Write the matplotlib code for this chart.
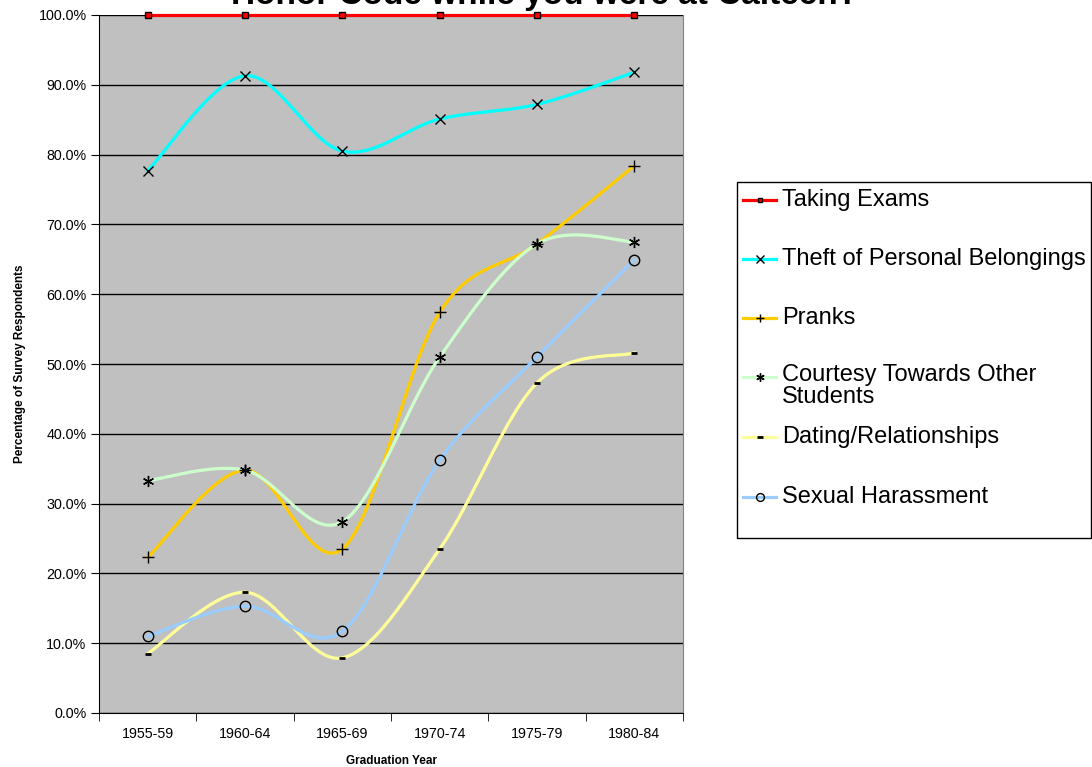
import matplotlib
matplotlib.use("Agg")
import matplotlib.pyplot as plt
from matplotlib.lines import Line2D
from matplotlib.patches import Rectangle
import numpy as np

plt.rcParams['font.family'] = ['Liberation Sans', 'DejaVu Sans']

# %% --- DATOS ---
years = ['1955-59', '1960-64', '1965-69', '1970-74', '1975-79', '1980-84']

taking_exams = [100.0, 100.0, 100.0, 100.0, 100.0, 100.0]
theft = [77.7, 91.3, 80.5, 85.1, 87.2, 91.8]
pranks = [22.3, 34.8, 23.5, 57.4, 67.2, 78.4]
courtesy = [33.3, 34.8, 27.4, 51.0, 67.2, 67.5]
dating = [8.5, 17.3, 7.9, 23.5, 47.3, 51.6]
harassment = [11.0, 15.3, 11.7, 36.2, 51.0, 64.9]

title = 'Honor Code while you were at Caltech?'


def suavizar(yy, pasos=30):
    # curva suave tipo Excel (Bezier / Catmull-Rom) entre los puntos
    yy = np.asarray(yy, dtype=float)
    xx = np.arange(len(yy), dtype=float)
    P = np.column_stack([xx, yy])
    P = np.vstack([P[0], P, P[-1]])
    out = []
    t = np.linspace(0, 1, pasos)[:, None]
    for i in range(1, len(P) - 2):
        p0, p1, p2, p3 = P[i - 1], P[i], P[i + 1], P[i + 2]
        c1 = p1 + (p2 - p0) / 6
        c2 = p2 - (p3 - p1) / 6
        seg = ((1 - t) ** 3) * p1 + 3 * ((1 - t) ** 2) * t * c1 + 3 * (1 - t) * t ** 2 * c2 + t ** 3 * p2
        out.append(seg if i == 1 else seg[1:])
    out = np.vstack(out)
    return out[:, 0], out[:, 1]


# %% --- GRAFICO ---
W, H = 1092, 767
fig = plt.figure(figsize=(W / 100, H / 100), dpi=100)
ax = fig.add_axes([99 / W, 1 - 713 / H, 584 / W, 698 / H])
ax.set_facecolor('#C0C0C0')

# (datos, color, marcador, etiqueta, tamaño, relleno, grosor borde)
series = [
    (taking_exams, '#FF0000', 's', 'Taking Exams', 4.5, '#FF0000', 1.0),
    (theft, '#00FFFF', 'x', 'Theft of Personal Belongings', 7, 'none', 1.0),
    (pranks, '#FFCC00', '+', 'Pranks', 8, 'none', 1.0),
    (courtesy, '#CCFFCC', (6, 2, 0), 'Courtesy Towards Other\nStudents', 8, 'none', 1.0),
    (dating, '#FFFF99', '_', 'Dating/Relationships', 5, 'none', 2.0),
    (harassment, '#99CCFF', 'o', 'Sexual Harassment', 7.5, 'none', 1.0),
]

xpos = np.arange(len(years))
for data, col, mk, lab, ms, mfc, mew in series:
    sx, sy = suavizar(data)
    ax.plot(sx, sy, color=col, lw=2.3, clip_on=False, zorder=3)
    ax.plot(xpos, data, linestyle='none', marker=mk, markersize=ms,
            markerfacecolor=mfc, markeredgecolor='black', markeredgewidth=mew,
            clip_on=False, zorder=4)

ax.set_xlim(-0.5, 5.5)
ax.set_ylim(0, 100)
ax.set_yticks(np.arange(0, 101, 10))
ax.set_yticklabels([f'{v:.1f}%' for v in np.arange(0, 101, 10)], fontsize=10.3)
ax.yaxis.grid(True, color='black', lw=1)
ax.set_axisbelow(True)

ax.set_xticks(xpos)
ax.set_xticklabels(years, fontsize=10.3)
ax.tick_params(axis='x', which='major', length=0, pad=10)
ax.set_xticks(np.arange(-0.5, 6, 1), minor=True)
ax.tick_params(axis='x', which='minor', length=6, direction='out', color='black')
ax.tick_params(axis='y', length=6, direction='out', color='black', pad=3)

ax.spines['top'].set_visible(False)
ax.spines['right'].set_color('#808080')
ax.spines['left'].set_color('black')
ax.spines['bottom'].set_color('black')

ax.set_xlabel('Graduation Year', fontsize=8.5, fontweight='bold', labelpad=10)
ax.set_ylabel('Percentage of Survey Respondents', fontsize=8.5, fontweight='bold', labelpad=9)

# titulo cortado arriba, igual que en la imagen original
fig.text(0.499, 1 - 4 / H, title, ha='center', va='baseline', fontsize=24, fontweight='bold')

# --- leyenda a mano ---
fig.patches.append(Rectangle((737 / W, 1 - 538 / H), 354 / W, 356 / H, transform=fig.transFigure,
                             facecolor='white', edgecolor='black', lw=1))
ys_leg = [200, 259, 318, 377, 437, 497]
for (data, col, mk, lab, ms, mfc, mew), yl in zip(series, ys_leg):
    yf = 1 - yl / H
    fig.lines.append(Line2D([743 / W, 776 / W], [yf, yf], transform=fig.transFigure, color=col, lw=2.3))
    fig.lines.append(Line2D([759.5 / W], [yf], transform=fig.transFigure, marker=mk, markersize=ms * 0.75,
                            markerfacecolor=mfc, markeredgecolor='black', markeredgewidth=mew))
    if '\n' in lab:
        fig.text(782 / W, yf + 13 / H, lab, ha='left', va='top', fontsize=17, linespacing=1.0)
    else:
        fig.text(782 / W, yf, lab, ha='left', va='center', fontsize=17)

fig.savefig('out.png', dpi=100)
